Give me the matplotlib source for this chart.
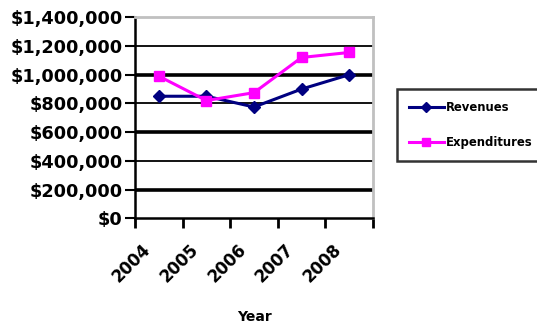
import numpy as np
from matplotlib import pyplot as plt
from matplotlib.ticker import FuncFormatter, MultipleLocator
import matplotlib.transforms as mtransforms

years = ['2004', '2005', '2006', '2007', '2008']
revenues = [850000, 850000, 775000, 900000, 1000000]
expenditures = [990000, 820000, 875000, 1120000, 1155000]

plt.rcParams['font.family'] = 'DejaVu Sans'
plt.rcParams['font.weight'] = 'bold'
plt.rcParams['axes.labelweight'] = 'bold'

fig = plt.figure(figsize=(5.37, 3.29), dpi=100)
ax = fig.add_axes([0.2514, 0.3365, 0.4432, 0.611])

x = np.arange(len(years))
ax.plot(x, revenues, color='#000080', marker='D', markersize=6, lw=2.2,
        label='Revenues', zorder=3)
ax.plot(x, expenditures, color='#ff00ff', marker='s', markersize=7, lw=2.2,
        label='Expenditures', zorder=3)

ax.set_xlim(-0.5, len(years) - 0.5)
ax.set_ylim(0, 1400000)

# horizontal gridlines, alternating heavy and light
for i, v in enumerate(range(200000, 1400000, 200000)):
    ax.axhline(v, color='black', lw=2.6 if i % 2 == 0 else 1.3, zorder=1)

ax.yaxis.set_major_locator(MultipleLocator(200000))
ax.yaxis.set_major_formatter(FuncFormatter(lambda v, p: f'${v:,.0f}'))
ax.tick_params(axis='y', direction='out', length=7, width=1.5, labelsize=12.8, pad=2)

# category ticks between years, labels at the centres
ax.set_xticks(np.arange(-0.5, len(years), 1.0), minor=True)
ax.set_xticks(x)
ax.set_xticklabels(years, rotation=45, ha='right', va='top', rotation_mode='anchor',
                   fontsize=12)
ax.tick_params(axis='x', which='major', length=0, pad=16)
ax.tick_params(axis='x', which='minor', direction='out', length=7, width=2)
offset = mtransforms.ScaledTranslation(-17 / 100, 0, fig.dpi_scale_trans)
for lbl in ax.get_xticklabels():
    lbl.set_transform(lbl.get_transform() + offset)

ax.set_xlabel('Year', fontsize=10, labelpad=17)

for side in ['left', 'bottom']:
    ax.spines[side].set_color('black')
    ax.spines[side].set_linewidth(1.8)
for side in ['top', 'right']:
    ax.spines[side].set_color('#c0c0c0')
    ax.spines[side].set_linewidth(2)

leg = fig.legend(loc='upper left', bbox_to_anchor=(397 / 537, 1 - 89 / 329),
                 fontsize=8.4, frameon=True, fancybox=False, handlelength=3.0,
                 handletextpad=0.15, borderpad=1.0, labelspacing=1.9,
                 markerscale=0.85, borderaxespad=0)
leg.get_frame().set_edgecolor('black')
leg.get_frame().set_linewidth(1.8)

fig.savefig('out.png', dpi=100)
